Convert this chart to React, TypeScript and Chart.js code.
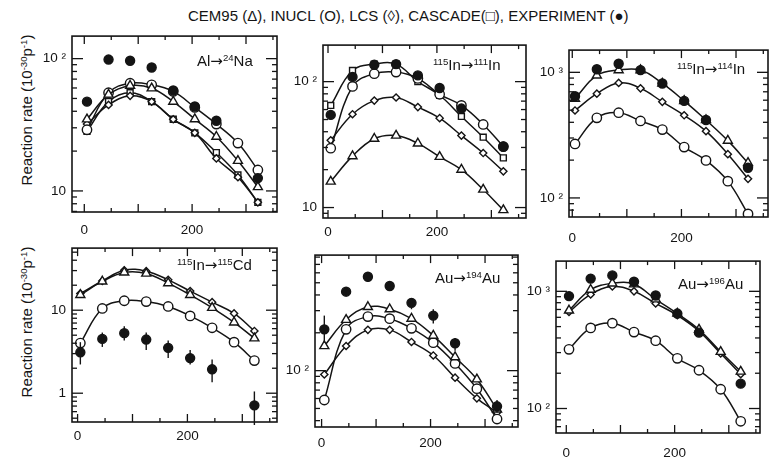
import React, { useEffect, useRef } from 'react';
import { Chart, registerables } from 'chart.js';
Chart.register(...registerables);

const FONT = '"Liberation Sans", Arial, Helvetica, sans-serif';
const INK = '#141414';

// positions along x (shared by all panels)
const X = [5, 45, 85, 125, 165, 205, 245, 285, 322];
const X_LABELS = [0, 200];

// Al -> 24Na
const alCem = [34.8, 53.5, 62.4, 59.7, 47.3, 34.9, 25.7, 16.9, 10.7];
const alInucl = [29.0, 55.2, 65.2, 63.4, 56.5, 42.8, 32.0, 23.0, 14.4];
const alLcs = [32.0, 44.7, 52.3, 47.3, 34.8, 27.5, 17.6, 12.7, 8.2];
const alCascade = [28.2, 47.3, 55.2, 47.3, 34.8, 27.5, 19.5, 13.2, 8.2];
const alExp = [47.3, 98.4, 96.3, 85.7, 57.4, 43.5, 33.9, null, 12.5];

// 115In -> 111In
const in111Cem = [16.1, 25.6, 35.2, 37.3, 32.3, 25.3, 20.0, 13.9, 9.55];
const in111Inucl = [29.6, 91.6, 115.6, 119, 106, 79.3, 64.7, 45.7, 30.5];
const in111Lcs = [34.2, 55.1, 70.7, 74.8, 62.8, 51.3, 37.3, 27.1, 19.4];
const in111Cascade = [64.7, 122.5, 137.6, 137.6, 100, 77.9, 52.9, 36.2, 24.8];
const in111Exp = [54.4, 109, 136, 137.7, 112, 89, 61.1, null, 30.5];

// 115In -> 114In
const in114Cem = [616, 944, 1042, 1042, 815, 592, 417, 286, 190];
const in114Inucl = [269, 434, 477, 410, 350, 254, 199, 136, 74.6];
const in114Lcs = [497, 676, 824, 746, 582, 455, 340, 223, 142];
const in114Exp = [645, 1059, 1170, 1042, 815, 592, 417, null, 174];

// 115In -> 115Cd
const cdCem = [15.3, 22.2, 28.5, 27.7, 21.2, 15.3, 10.7, 7.14, 4.59];
const cdInucl = [4.02, 10.5, 13.0, 12.7, 11.1, 8.53, 6.14, 4.12, 2.47];
const cdLcs = [15.9, 22.5, 30.3, 29.5, 23.2, 17.0, 12.5, 9.15, 5.62];
const cdExp = [3.11, 4.51, 5.29, 4.43, 3.52, 2.65, 1.94, null, 0.714];
const cdExpLo = [2.22, 3.61, 4.31, 3.31, 2.65, 2.22, 1.36, null, 0.38];
const cdExpHi = [4.12, 5.38, 6.42, 5.38, 4.31, 3.31, 2.54, null, 1.05];

// Au -> 194Au
const au194Cem = [157, 254, 321, 308, 259, 190, 128, 85.4, 49.1];
const au194Inucl = [58.4, 213, 269, 259, 217, 167, 114, 71.8, 41.2];
const au194Lcs = [93.2, 157, 211, 211, 169, 132, 87.9, 60.2, 46.4];
const au194Exp = [213, 425, 558, 471, 346, 274, 165, null, 52];
const au194ExpLo = [167, 389, 506, 437, 308, 237, 144, null, 46.4];
const au194ExpHi = [274, 463, 602, 506, 378, 308, 182, null, 58.5];

// Au -> 196Au
const au196Cem = [687, 1032, 1170, 1148, 855, 646, 472, 305, 207];
const au196Inucl = [320, 487, 535, 449, 379, 268, 212, 146, 77.8];
const au196Lcs = [666, 940, 1099, 1000, 789, 625, 458, 295, 196];
const au196Exp = [910, 1284, 1368, 1208, 922, 646, 444, null, 163];

type Kind = 'exp' | 'cem' | 'inucl' | 'lcs' | 'cascade';
type Ser = { kind: Kind; v: (number | null)[]; lo?: (number | null)[]; hi?: (number | null)[] };
type PanelCfg = {
  box: { l: number; t: number; r: number; b: number };
  xr: [number, number];
  yr: [number, number];
  xPad: number;
  series: Ser[];
};

const PANELS: PanelCfg[] = [
  {
    box: { l: 72, t: 28, r: 277, b: 212 }, xr: [-22.8, 357.5], yr: [6.93, 148], xPad: 10,
    series: [
      { kind: 'exp', v: alExp }, { kind: 'cem', v: alCem }, { kind: 'inucl', v: alInucl },
      { kind: 'lcs', v: alLcs }, { kind: 'cascade', v: alCascade },
    ],
  },
  {
    box: { l: 323, t: 37, r: 526, b: 218 }, xr: [-9.2, 363.6], yr: [8.26, 195], xPad: 6,
    series: [
      { kind: 'exp', v: in111Exp }, { kind: 'cem', v: in111Cem }, { kind: 'inucl', v: in111Inucl },
      { kind: 'lcs', v: in111Lcs }, { kind: 'cascade', v: in111Cascade },
    ],
  },
  {
    box: { l: 569, t: 42, r: 768, b: 217 }, xr: [-6, 358.6], yr: [70.5, 1503], xPad: 13,
    series: [
      { kind: 'exp', v: in114Exp }, { kind: 'cem', v: in114Cem }, { kind: 'inucl', v: in114Inucl },
      { kind: 'lcs', v: in114Lcs },
    ],
  },
  {
    box: { l: 72, t: 240, r: 277, b: 422 }, xr: [-10.2, 363.2], yr: [0.45, 56], xPad: 6,
    series: [
      { kind: 'exp', v: cdExp, lo: cdExpLo, hi: cdExpHi }, { kind: 'cem', v: cdCem },
      { kind: 'inucl', v: cdInucl }, { kind: 'lcs', v: cdLcs },
    ],
  },
  {
    box: { l: 315, t: 247, r: 518, b: 427 }, xr: [-12.1, 360.5], yr: [35.6, 830], xPad: 8,
    series: [
      { kind: 'exp', v: au194Exp, lo: au194ExpLo, hi: au194ExpHi }, { kind: 'cem', v: au194Cem },
      { kind: 'inucl', v: au194Inucl }, { kind: 'lcs', v: au194Lcs },
    ],
  },
  {
    box: { l: 556, t: 253, r: 760, b: 433 }, xr: [-19, 357.6], yr: [61.8, 1811], xPad: 12,
    series: [
      { kind: 'exp', v: au196Exp }, { kind: 'cem', v: au196Cem }, { kind: 'inucl', v: au196Inucl },
      { kind: 'lcs', v: au196Lcs },
    ],
  },
];

const STYLE: Record<Kind, { ps: string; r: number; line: boolean; fill: boolean; label: string }> = {
  exp: { ps: 'circle', r: 4.5, line: false, fill: true, label: 'EXPERIMENT' },
  cem: { ps: 'triangle', r: 5.2, line: true, fill: false, label: 'CEM95' },
  inucl: { ps: 'circle', r: 4.7, line: true, fill: false, label: 'INUCL' },
  lcs: { ps: 'rectRot', r: 3.6, line: true, fill: false, label: 'LCS' },
  cascade: { ps: 'rect', r: 4.2, line: true, fill: false, label: 'CASCADE' },
};

const SUPD: Record<string, string> = { '0': '⁰', '1': '¹', '2': '²', '3': '³', '4': '⁴', '5': '⁵', '6': '⁶', '7': '⁷', '8': '⁸', '9': '⁹', '-': '⁻' };
function decadeLabel(v: number) {
  const e = Math.round(Math.log10(v));
  if (e === 0) return '1';
  if (e === 1) return '10';
  return '10 ' + String(e).split('').map((c) => SUPD[c]).join('');
}

const framePlugin = {
  id: 'frame',
  afterDatasetsDraw(chart: any) {
    const { ctx, chartArea: a, scales } = chart;
    const xs = scales.x, ys = scales.y;
    const line = (x1: number, y1: number, x2: number, y2: number) => {
      ctx.beginPath(); ctx.moveTo(x1, y1); ctx.lineTo(x2, y2); ctx.stroke();
    };
    ctx.save();
    ctx.strokeStyle = INK;
    // error bars
    ctx.lineWidth = 1.4;
    chart.data.datasets.forEach((ds: any, i: number) => {
      const meta = chart.getDatasetMeta(i);
      ds.data.forEach((d: any, j: number) => {
        if (d == null || d.lo == null || d.hi == null) return;
        const el = meta.data[j];
        const y1 = Math.min(ys.getPixelForValue(d.lo), a.bottom + 3);
        const y2 = ys.getPixelForValue(d.hi);
        line(el.x, y1, el.x, y2);
      });
    });
    // frame
    ctx.lineWidth = 1.6;
    ctx.strokeRect(a.left, a.top, a.right - a.left, a.bottom - a.top);
    ctx.lineWidth = 1.3;
    const e0 = Math.floor(Math.log10(ys.min)), e1 = Math.ceil(Math.log10(ys.max));
    for (let e = e0; e <= e1; e++) {
      for (let m = 1; m <= 9; m++) {
        const v = m * Math.pow(10, e);
        if (v < ys.min || v > ys.max) continue;
        const p = ys.getPixelForValue(v);
        const len = m === 1 ? 11 : 5;
        line(a.left, p, a.left + len, p);
        line(a.right, p, a.right - len, p);
      }
    }
    for (let v = Math.ceil(xs.min / 50) * 50; v <= xs.max; v += 50) {
      const p = xs.getPixelForValue(v);
      const len = v % 100 === 0 ? 8 : 4;
      line(p, a.bottom, p, a.bottom - len);
      line(p, a.top, p, a.top + len);
    }
    ctx.restore();
  },
};

const PAD_L = 46, PAD_R = 6, PAD_T = 6, PAD_B = 30;

function Panel({ p }: { p: PanelCfg }) {
  const ref = useRef<HTMLCanvasElement>(null);
  const W = p.box.r - p.box.l + PAD_L + PAD_R;
  const H = p.box.b - p.box.t + PAD_T + PAD_B;
  useEffect(() => {
    const datasets = p.series.map((s) => {
      const st = STYLE[s.kind];
      const data: any[] = [];
      s.v.forEach((y, i) => {
        if (y == null) return;
        const pt: any = { x: X[i], y };
        if (s.lo && s.hi && s.lo[i] != null) { pt.lo = s.lo[i]; pt.hi = s.hi[i]; }
        data.push(pt);
      });
      return {
        label: st.label,
        data,
        showLine: st.line,
        borderColor: INK,
        borderWidth: 1.5,
        backgroundColor: st.fill ? INK : '#fff',
        pointStyle: st.ps,
        pointRadius: st.r,
        pointBorderWidth: 1.4,
        pointBorderColor: INK,
        pointBackgroundColor: st.fill ? INK : '#fff',
        tension: 0.4,
        fill: false,
      };
    });
    const [ymin, ymax] = p.yr;
    const decades: number[] = [];
    for (let e = Math.floor(Math.log10(ymin)); e <= Math.ceil(Math.log10(ymax)); e++) {
      const v = Math.pow(10, e);
      if (v >= ymin && v <= ymax) decades.push(v);
    }
    const chart = new Chart(ref.current as HTMLCanvasElement, {
      type: 'line',
      data: { datasets } as any,
      options: {
        animation: false,
        responsive: false,
        maintainAspectRatio: false,
        devicePixelRatio: 1,
        layout: { autoPadding: false, padding: { left: 0, right: PAD_R, top: PAD_T, bottom: 0 } },
        plugins: { legend: { display: false }, tooltip: { enabled: false }, title: { display: false } },
        scales: {
          x: {
            type: 'linear',
            min: p.xr[0],
            max: p.xr[1],
            afterBuildTicks: (s: any) => { s.ticks = X_LABELS.map((v) => ({ value: v })); },
            afterFit: (s: any) => { s.height = PAD_B; },
            grid: { display: false, drawTicks: false },
            border: { display: false },
            ticks: { autoSkip: false, maxRotation: 0, padding: p.xPad, color: INK, font: { family: FONT, size: 13.5 }, callback: (v: any) => String(v) },
          },
          y: {
            type: 'logarithmic',
            min: ymin,
            max: ymax,
            afterBuildTicks: (s: any) => { s.ticks = decades.map((v) => ({ value: v, major: true })); },
            afterFit: (s: any) => { s.width = PAD_L; },
            grid: { display: false, drawTicks: false },
            border: { display: false },
            ticks: { autoSkip: false, padding: 6, color: INK, font: { family: FONT, size: 13.5 }, callback: (v: any) => decadeLabel(Number(v)) },
          },
        },
      } as any,
      plugins: [framePlugin],
    });
    return () => chart.destroy();
  }, []);
  return (
    <canvas
      ref={ref}
      width={W}
      height={H}
      style={{ position: 'absolute', left: p.box.l - PAD_L, top: p.box.t - PAD_T, width: W, height: H }}
    />
  );
}

const Sup = ({ c }: { c: string }) => (
  <span style={{ fontSize: '0.64em', position: 'relative', top: '-0.52em' }}>{c}</span>
);
const Arrow = () => <span style={{ fontFamily: '"DejaVu Sans", sans-serif' }}>→</span>;

const LABELS: { left: number; top: number; content: React.ReactNode }[] = [
  { left: 197, top: 52, content: <>Al<Arrow /><Sup c="24" />Na</> },
  { left: 433, top: 56, content: <><Sup c="115" />In<Arrow /><Sup c="111" />In</> },
  { left: 677, top: 60, content: <><Sup c="115" />In<Arrow /><Sup c="114" />In</> },
  { left: 177, top: 256, content: <><Sup c="115" />In<Arrow /><Sup c="115" />Cd</> },
  { left: 435, top: 269, content: <>Au<Arrow /><Sup c="194" />Au</> },
  { left: 678, top: 275, content: <>Au<Arrow /><Sup c="196" />Au</> },
];

const YTITLE_CENTERS = [110, 322];

export default function App() {
  return (
    <div
      style={{
        position: 'fixed', left: 0, top: 0, width: 769, height: 461, overflow: 'hidden',
        background: '#fff', fontFamily: FONT, color: INK,
      }}
    >
      <div style={{ position: 'absolute', left: 188, top: 7, fontSize: 15, lineHeight: '17px', whiteSpace: 'nowrap' }}>
        CEM95 (Δ), INUCL (O), LCS (◊), CASCADE(□), EXPERIMENT (●)
      </div>
      {YTITLE_CENTERS.map((cy, i) => (
        <div
          key={i}
          style={{
            position: 'absolute', left: 27 - 110, top: cy - 10, width: 220, height: 20, lineHeight: '20px',
            fontSize: 15, textAlign: 'center', whiteSpace: 'nowrap', transform: 'rotate(-90deg)',
          }}
        >
          Reaction rate (10<Sup c="-30" />p<Sup c="-1" />)
        </div>
      ))}
      {PANELS.map((p, i) => (
        <Panel key={i} p={p} />
      ))}
      {LABELS.map((l, i) => (
        <div key={i} style={{ position: 'absolute', left: l.left, top: l.top, fontSize: 15, lineHeight: '18px', whiteSpace: 'nowrap' }}>
          {l.content}
        </div>
      ))}
    </div>
  );
}
